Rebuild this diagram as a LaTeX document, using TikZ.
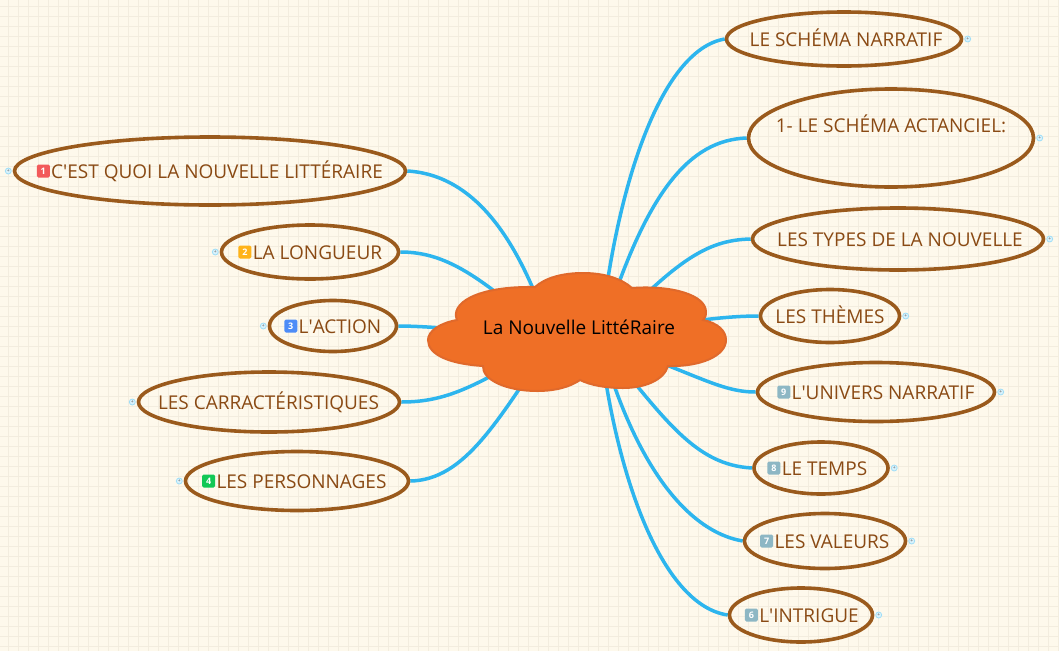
\documentclass[tikz,border=0pt]{standalone}
\usepackage{fontspec}
\setmainfont{Open Sans}
\usetikzlibrary{shapes.geometric, positioning, backgrounds}
\definecolor{paper}{HTML}{FEF9EC}
\definecolor{gridline}{HTML}{F3EDDF}
\definecolor{linkblue}{HTML}{2DB5EE}
\definecolor{topicbrown}{HTML}{9A5A1C}
\definecolor{topictext}{HTML}{8A4A14}
\definecolor{cloudfill}{HTML}{EF6F26}
\definecolor{cloudline}{HTML}{E0692B}
\definecolor{badgered}{HTML}{F25A5A}
\definecolor{badgeyellow}{HTML}{FFB319}
\definecolor{badgeblue}{HTML}{4E8CF7}
\definecolor{badgegreen}{HTML}{12C856}
\definecolor{badgeteal}{HTML}{8DB7C4}

\begin{document}
\begin{tikzpicture}[x=1pt, y=-1pt]
        \tikzstyle{topic}=[draw=topicbrown, line width=3.6pt, ellipse, inner sep=0pt];
        \tikzstyle{caption}=[text=topictext, inner sep=0pt, text height=15pt, text depth=0pt, font=\fontsize{19}{23}\selectfont, align=center];
        \tikzstyle{badge}=[rectangle, rounded corners=1.5pt, minimum size=13pt, inner sep=0pt, text=white, font=\fontsize{9}{9}\selectfont\bfseries];
        \tikzstyle{handle}=[circle, draw=linkblue!45, fill=linkblue!18, line width=.8pt, minimum size=6pt, inner sep=0pt, text=black!60, font=\fontsize{5}{5}\selectfont];
        \tikzstyle{link}=[draw=linkblue, line width=3.5pt];

        \useasboundingbox (0,0) rectangle (1059,651);
        \coordinate (rootright) at (600,340);
        \coordinate (rootleft) at (552,340);

        % right side
        \node[topic, minimum width=235pt, minimum height=54pt] (narratif) at (844,39) {};
        \node[caption] (narratiftxt) at (846,39) {LE SCHÉMA NARRATIF};
        \node[handle, right=1pt of narratif] (narratifh) {+};

        \node[topic, minimum width=285pt, minimum height=98pt] (actanciel) at (891,138) {};
        \node[caption] (actancieltxt) at (891,125) {1- LE SCHÉMA ACTANCIEL:};
        \node[handle, right=1pt of actanciel] (actancielh) {+};

        \node[topic, minimum width=291pt, minimum height=62pt] (types) at (898,239) {};
        \node[caption] (typestxt) at (900,239) {LES TYPES DE LA NOUVELLE};
        \node[handle, right=1pt of types] (typesh) {+};

        \node[topic, minimum width=139pt, minimum height=53pt] (themes) at (830,316) {};
        \node[caption] (themestxt) at (830,316) {LES THÈMES};
        \node[handle, right=1pt of themes] (themesh) {+};

        \node[topic, minimum width=237pt, minimum height=59pt] (univers) at (876,392) {};
        \node[caption] (universtxt) at (883,392) {L\textquotesingle UNIVERS NARRATIF};
        \node[badge, fill=badgeteal, left=1pt of universtxt] (universb) {9};
        \node[handle, right=1pt of univers] (universh) {+};

        \node[topic, minimum width=134pt, minimum height=52pt] (temps) at (821,468) {};
        \node[caption] (tempstxt) at (824.5,468) {LE TEMPS};
        \node[badge, fill=badgeteal, left=1pt of tempstxt] (tempsb) {8};
        \node[handle, right=1pt of temps] (tempsh) {+};

        \node[topic, minimum width=161pt, minimum height=55pt] (valeurs) at (825,541) {};
        \node[caption] (valeurstxt) at (832,541) {LES VALEURS};
        \node[badge, fill=badgeteal, left=1pt of valeurstxt] (valeursb) {7};
        \node[handle, right=1pt of valeurs] (valeursh) {+};

        \node[topic, minimum width=143pt, minimum height=54pt] (intrigue) at (801,615) {};
        \node[caption] (intriguetxt) at (809,615) {L\textquotesingle INTRIGUE};
        \node[badge, fill=badgeteal, left=1pt of intriguetxt] (intrigueb) {6};
        \node[handle, right=1pt of intrigue] (intrigueh) {+};

        % left side
        \node[topic, minimum width=391pt, minimum height=68pt] (quoi) at (210,171) {};
        \node[caption] (quoitxt) at (217,171) {C\textquotesingle EST QUOI LA NOUVELLE LITTÉRAIRE};
        \node[badge, fill=badgered, left=1pt of quoitxt] (quoib) {1};
        \node[handle, left=1pt of quoi] (quoih) {+};

        \node[topic, minimum width=177pt, minimum height=54pt] (longueur) at (310,252) {};
        \node[caption] (longueurtxt) at (317.5,252) {LA LONGUEUR};
        \node[badge, fill=badgeyellow, left=1pt of longueurtxt] (longueurb) {2};
        \node[handle, left=1pt of longueur] (longueurh) {+};

        \node[topic, minimum width=127pt, minimum height=51pt] (action) at (333,326) {};
        \node[caption] (actiontxt) at (340,326) {L\textquotesingle ACTION};
        \node[badge, fill=badgeblue, left=1pt of actiontxt] (actionb) {3};
        \node[handle, left=1pt of action] (actionh) {+};

        \node[topic, minimum width=261pt, minimum height=60pt] (carrac) at (269,402) {};
        \node[caption] (carractxt) at (268.5,402) {LES CARRACTÉRISTIQUES};
        \node[handle, left=1pt of carrac] (carrach) {+};

        \node[topic, minimum width=223pt, minimum height=59pt] (perso) at (297,481) {};
        \node[caption] (persotxt) at (301.5,481) {LES PERSONNAGES};
        \node[badge, fill=badgegreen, left=1pt of persotxt] (persob) {4};
        \node[handle, left=1pt of perso] (persoh) {+};

        % the cloud covers the end of every link
        \draw[fill=cloudfill, draw=cloudline, line width=2pt]
        (535,287) .. controls (545,278) and (562,273) .. (583,273)
        .. controls (605,273) and (622,279) .. (632,288)
        .. controls (672,285) and (706,295) .. (706,312)
        .. controls (706,316) and (705,318) .. (703,320)
        .. controls (718,323) and (726,331) .. (726,340)
        .. controls (726,356) and (700,367) .. (668,366)
        .. controls (664,380) and (645,388) .. (623,388)
        .. controls (605,388) and (590,385) .. (580,380)
        .. controls (570,387) and (555,391) .. (537,391)
        .. controls (507,391) and (482,380) .. (483,366)
        .. controls (450,364) and (428,355) .. (428,340)
        .. controls (428,331) and (440,323) .. (457,320)
        .. controls (450,304) and (475,286) .. (535,287) -- cycle;
        \node[inner sep=0pt, text height=15pt, text depth=0pt, font=\fontsize{19}{23}\selectfont] (hub) at (579,327) {La Nouvelle LittéRaire};

        \begin{pgfonlayer}{background}
          \fill[paper] (0,0) rectangle (1059,651);
          \foreach \gx in {8.7,18.7,...,1059} \draw[gridline, line width=1pt] (\gx,0) -- (\gx,651);
          \foreach \gy in {6.7,16.7,...,651} \draw[gridline, line width=1pt] (0,\gy) -- (1059,\gy);

          \path[link] (narratif.west) .. controls (660,50) and (615,190) .. (rootright);
          \path[link] (actanciel.west) .. controls (690,140) and (645,190) .. (rootright);
          \path[link] (types.west) .. controls (705,240) and (675,262) .. (rootright);
          \path[link] (themes.west) .. controls (730,316) and (680,320) .. (rootright);
          \path[link] (univers.west) .. controls (720,392) and (697,374) .. (rootright);
          \path[link] (temps.west) .. controls (695,465) and (665,420) .. (rootright);
          \path[link] (valeurs.west) .. controls (680,530) and (630,450) .. (rootright);
          \path[link] (intrigue.west) .. controls (660,605) and (615,470) .. (rootright);
          \path[link] (quoi.east) .. controls (475,175) and (520,240) .. (rootleft);
          \path[link] (longueur.east) .. controls (445,252) and (480,275) .. (rootleft);
          \path[link] (action.east) .. controls (430,326) and (500,332) .. (rootleft);
          \path[link] (carrac.east) .. controls (445,402) and (475,388) .. (rootleft);
          \path[link] (perso.east) .. controls (465,480) and (498,420) .. (rootleft);
        \end{pgfonlayer}
      \end{tikzpicture}
\end{document}
